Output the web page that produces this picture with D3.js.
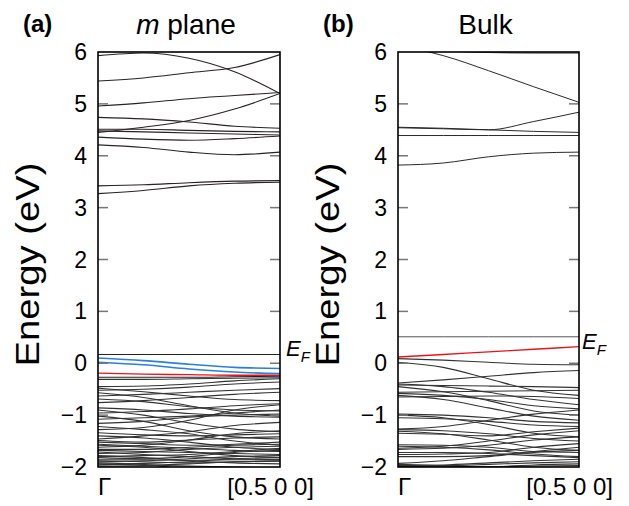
<!DOCTYPE html>
<html>
<head>
<meta charset="utf-8">
<script src="https://cdn.jsdelivr.net/npm/d3@7"></script>
<style>
  html, body { margin: 0; padding: 0; background: #fff; }
  svg { display: block; }
  text { font-family: "Liberation Sans", Arial, Helvetica, sans-serif; fill: #000; }
</style>
</head>
<body>
<svg id="chart" width="629" height="506"></svg>
<script>
// k-path sample points from Γ to [0.5 0 0] (fractional)
const kPoints = [0, 0.25, 0.5, 0.75, 1];
const kLabels = ["Γ", "[0.5 0 0]"];
const energyTicks = [-2, -1, 0, 1, 2, 3, 4, 5, 6];
const energyRange = [-2, 6];

// ---- (a) m plane ----
const mPlaneConduction = [
  [5.93, 5.98, 5.88, 5.62, 5.20],
  [5.44, 5.50, 5.60, 5.70, 5.95],
  [4.96, 5.02, 5.10, 5.16, 5.22],
  [4.74, 4.71, 4.65, 4.57, 4.53],
  [4.45, 4.55, 4.68, 4.90, 5.20],
  [4.51, 4.51, 4.49, 4.47, 4.46],
  [4.48, 4.46, 4.44, 4.42, 4.40],
  [4.36, 4.32, 4.30, 4.33, 4.38],
  [4.21, 4.16, 4.07, 4.02, 4.07],
  [3.42, 3.44, 3.48, 3.51, 3.52],
  [3.27, 3.33, 3.42, 3.47, 3.49]
];
const mPlaneEdge = [
  [0.17, 0.17, 0.17, 0.17, 0.17],
  [-0.27, -0.27, -0.27, -0.26, -0.25]
];
const mPlaneBlue = [
  [0.10, 0.05, -0.02, -0.08, -0.10],
  [0.02, -0.03, -0.11, -0.17, -0.20]
];
const mPlaneRed = [
  [-0.19, -0.21, -0.22, -0.23, -0.23]
];
const mPlaneValence = [
  [-0.31, -0.31, -0.30, -0.29, -0.28],
  [-0.45, -0.44, -0.40, -0.34, -0.30],
  [-0.48, -0.55, -0.63, -0.70, -0.72],
  [-0.52, -0.50, -0.46, -0.40, -0.36],
  [-0.57, -0.66, -0.82, -0.96, -1.02],
  [-0.63, -0.60, -0.56, -0.52, -0.49],
  [-0.69, -0.74, -0.84, -0.90, -0.92],
  [-0.76, -0.72, -0.66, -0.60, -0.56],
  [-0.86, -0.90, -0.97, -1.02, -1.04],
  [-0.90, -1.00, -1.15, -1.27, -1.32],
  [-0.96, -0.93, -0.88, -0.82, -0.78],
  [-1.02, -1.12, -1.30, -1.42, -1.46],
  [-1.08, -1.05, -1.02, -0.96, -0.90],
  [-1.16, -1.12, -1.04, -1.00, -0.98],
  [-1.22, -1.28, -1.36, -1.50, -1.58],
  [-1.28, -1.24, -1.10, -0.90, -0.80],
  [-1.34, -1.38, -1.40, -1.38, -1.36],
  [-1.40, -1.44, -1.52, -1.62, -1.66],
  [-1.46, -1.40, -1.32, -1.20, -1.14],
  [-1.49, -1.52, -1.48, -1.44, -1.42],
  [-1.52, -1.55, -1.58, -1.56, -1.52],
  [-1.56, -1.60, -1.64, -1.68, -1.70],
  [-1.58, -1.62, -1.70, -1.78, -1.82],
  [-1.62, -1.58, -1.48, -1.36, -1.30],
  [-1.66, -1.66, -1.62, -1.58, -1.56],
  [-1.68, -1.70, -1.72, -1.74, -1.76],
  [-1.71, -1.76, -1.80, -1.84, -1.86],
  [-1.74, -1.72, -1.66, -1.62, -1.60],
  [-1.78, -1.82, -1.88, -1.92, -1.94],
  [-1.80, -1.78, -1.76, -1.70, -1.64],
  [-1.82, -1.84, -1.80, -1.72, -1.68],
  [-1.86, -1.86, -1.87, -1.86, -1.86],
  [-1.88, -1.90, -1.92, -1.90, -1.89],
  [-1.90, -1.88, -1.84, -1.80, -1.78],
  [-1.94, -1.96, -1.98, -2.00, -2.02],
  [-1.96, -1.93, -1.90, -1.84, -1.82],
  [-1.98, -1.97, -1.94, -1.90, -1.88],
  [-1.92, -1.95, -2.05, -2.10, -2.10]
];

// ---- (b) Bulk ----
const bulkConduction = [
  [6.12, 5.93, 5.64, 5.33, 5.03],
  [6.05, 6.02, 5.99, 5.98, 5.98],
  [4.54, 4.52, 4.50, 4.66, 4.84],
  [4.55, 4.53, 4.50, 4.47, 4.45],
  [4.39, 4.39, 4.39, 4.39, 4.39],
  [3.82, 3.86, 3.98, 4.05, 4.07]
];
const bulkGray = [
  [0.51, 0.51, 0.51, 0.51, 0.51]
];
const bulkRed = [
  [0.12, 0.17, 0.22, 0.27, 0.32]
];
const bulkValence = [
  [0.09, 0.06, 0.02, -0.02, -0.03],
  [0.02, -0.08, -0.30, -0.52, -0.62],
  [-0.38, -0.32, -0.25, -0.18, -0.14],
  [-0.40, -0.45, -0.56, -0.70, -0.80],
  [-0.42, -0.43, -0.44, -0.45, -0.47],
  [-0.45, -0.55, -0.72, -0.92, -1.00],
  [-0.56, -0.55, -0.54, -0.53, -0.52],
  [-0.58, -0.62, -0.70, -0.82, -0.88],
  [-0.62, -0.70, -0.86, -1.02, -1.10],
  [-0.65, -0.64, -0.63, -0.64, -0.68],
  [-0.98, -1.00, -1.05, -1.12, -1.15],
  [-1.00, -1.05, -1.18, -1.35, -1.42],
  [-1.05, -1.07, -1.12, -1.19, -1.22],
  [-1.27, -1.22, -1.10, -0.98, -0.90],
  [-1.28, -1.30, -1.36, -1.45, -1.50],
  [-1.31, -1.36, -1.48, -1.62, -1.68],
  [-1.35, -1.37, -1.40, -1.32, -1.25],
  [-1.57, -1.58, -1.62, -1.70, -1.72],
  [-1.60, -1.62, -1.67, -1.75, -1.80],
  [-1.64, -1.60, -1.50, -1.38, -1.30],
  [-1.66, -1.64, -1.58, -1.48, -1.42],
  [-1.72, -1.72, -1.74, -1.78, -1.82],
  [-1.76, -1.75, -1.72, -1.62, -1.55],
  [-1.80, -1.80, -1.78, -1.70, -1.62],
  [-1.93, -1.88, -1.80, -1.72, -1.68],
  [-1.97, -1.96, -1.92, -1.88, -1.85],
  [-2.00, -1.98, -1.95, -1.92, -1.90],
  [-1.95, -1.97, -2.00, -1.96, -1.94],
  [-1.99, -1.98, -1.99, -1.98, -1.97]
];

const panels = [
  {
    id: "a", tag: "(a)", title: [{ t: "m", italic: true }, { t: " plane" }],
    x0: 98, x1: 280,
    groups: [
      { bands: mPlaneConduction, color: "#2a2224", width: 1.1 },
      { bands: mPlaneValence, color: "#333", width: 1.1 },
      { bands: mPlaneEdge, color: "#222", width: 1.1 },
      { bands: mPlaneRed, color: "#e8141c", width: 1.4 },
      { bands: mPlaneBlue, color: "#2a7fdc", width: 1.6 }
    ]
  },
  {
    id: "b", tag: "(b)", title: [{ t: "Bulk" }],
    x0: 398, x1: 579,
    groups: [
      { bands: bulkConduction, color: "#2a2a2a", width: 1.0 },
      { bands: bulkValence, color: "#333", width: 1.1 },
      { bands: bulkGray, color: "#555", width: 1.0 },
      { bands: bulkRed, color: "#e8141c", width: 1.4 }
    ]
  }
];

const yTop = 52, yBottom = 467;
const svg = d3.select("#chart");

panels.forEach(p => {
  const x = d3.scaleLinear().domain([0, 1]).range([p.x0, p.x1]);
  const y = d3.scaleLinear().domain(energyRange).range([yBottom, yTop]);
  const g = svg.append("g");

  g.append("clipPath").attr("id", "clip-" + p.id)
    .append("rect")
    .attr("x", p.x0).attr("y", yTop)
    .attr("width", p.x1 - p.x0).attr("height", yBottom - yTop);

  const line = d3.line()
    .x((d, i) => x(kPoints[i]))
    .y(d => y(d))
    .curve(d3.curveMonotoneX);

  const plot = g.append("g").attr("clip-path", `url(#clip-${p.id})`);
  p.groups.forEach(grp => {
    plot.append("g").selectAll("path")
      .data(grp.bands)
      .join("path")
      .attr("d", line)
      .attr("fill", "none")
      .attr("stroke", grp.color)
      .attr("stroke-width", grp.width);
  });

  // inward ticks on both sides
  const tickLen = 10;
  const tickG = g.append("g");
  energyTicks.slice(1, -1).forEach(e => {
    tickG.append("line")
      .attr("x1", p.x0).attr("x2", p.x0 + tickLen)
      .attr("y1", y(e)).attr("y2", y(e))
      .attr("stroke", "#777").attr("stroke-width", 1.5);
    tickG.append("line")
      .attr("x1", p.x1 - tickLen).attr("x2", p.x1)
      .attr("y1", y(e)).attr("y2", y(e))
      .attr("stroke", "#777").attr("stroke-width", 1.5);
  });

  // frame
  g.append("rect")
    .attr("x", p.x0).attr("y", yTop)
    .attr("width", p.x1 - p.x0).attr("height", yBottom - yTop)
    .attr("fill", "none").attr("stroke", "#000").attr("stroke-width", 1.6);

  // y tick labels
  g.append("g").selectAll("text")
    .data(energyTicks)
    .join("text")
    .attr("x", p.x0 - 11)
    .attr("y", d => y(d) + 8)
    .attr("text-anchor", "end")
    .attr("font-size", 23)
    .text(d => d < 0 ? "\u2212" + Math.abs(d) : d);

  // y axis title
  g.append("text")
    .attr("transform", `translate(${p.x0 - 59},${(yTop + yBottom) / 2 + 5}) rotate(-90)`)
    .attr("text-anchor", "middle")
    .attr("font-size", 33)
    .attr("textLength", 204)
    .attr("lengthAdjust", "spacingAndGlyphs")
    .text("Energy (eV)");

  // k labels
  g.append("text")
    .attr("x", p.x0).attr("y", 495)
    .attr("font-size", 24)
    .text(kLabels[0]);
  g.append("text")
    .attr("x", p.x1 + 34).attr("y", 495)
    .attr("text-anchor", "end")
    .attr("font-size", 24)
    .text(kLabels[1]);

  // panel tag
  g.append("text")
    .attr("x", p.x0 - 75).attr("y", 32)
    .attr("font-size", 24).attr("font-weight", "bold")
    .text(p.tag);

  // title
  const title = g.append("text")
    .attr("x", (p.x0 + p.x1) / 2 - 3).attr("y", 34)
    .attr("text-anchor", "middle")
    .attr("font-size", 28);
  p.title.forEach(s => {
    title.append("tspan").attr("font-style", s.italic ? "italic" : "normal").text(s.t);
  });
});

// Fermi level labels
function fermiLabel(px, py) {
  const t = svg.append("text").attr("x", px).attr("y", py).attr("font-size", 22);
  t.append("tspan").attr("font-style", "italic").text("E");
  t.append("tspan").attr("font-style", "italic").attr("font-size", 15).attr("dy", 6).text("F");
}
fermiLabel(286, 356);
fermiLabel(582, 349);
</script>
</body>
</html>
